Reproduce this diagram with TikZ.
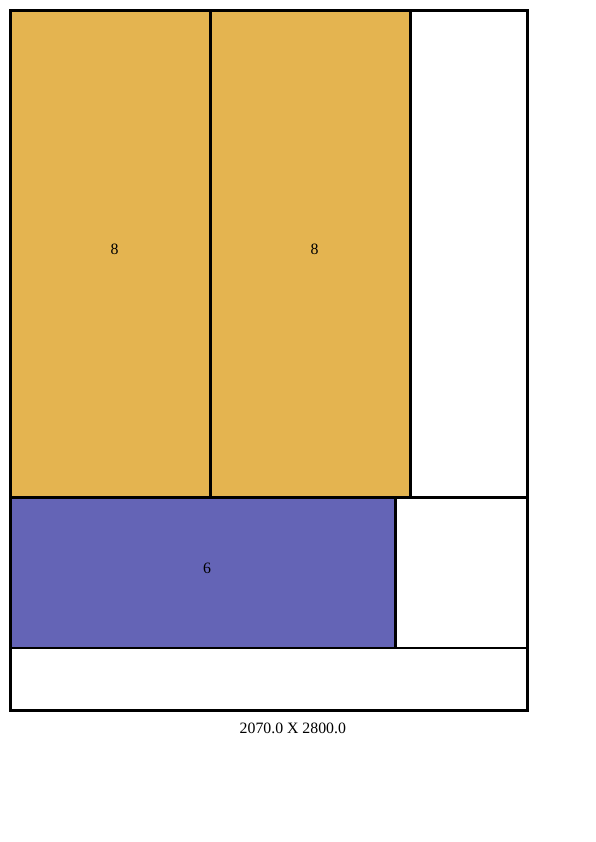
\documentclass[tikz,border=0pt]{standalone}
\usepackage{fontspec}
\setmainfont{Liberation Serif}
\definecolor{panelorange}{RGB}{228,180,80}
\definecolor{panelblue}{RGB}{100,100,182}
\begin{document}
\begin{tikzpicture}[x=1pt,y=-1pt,
  edge/.style={draw=black,line width=2.5pt},
  lbl/.style={anchor=base west,inner sep=0pt,font=\fontsize{15.8}{19}\selectfont}]
\useasboundingbox (0,0) rectangle (595,842);
\fill[white] (0,0) rectangle (595,842);
% panels
\filldraw[edge,fill=panelorange] (10.5,10.5) rectangle (210.5,497.5);
\filldraw[edge,fill=panelorange] (210.5,10.5) rectangle (410.5,497.5);
\filldraw[edge,fill=panelblue] (10.5,497.5) rectangle (395.5,648);
% shelf lines
\draw[edge] (10.5,497.5) -- (527.5,497.5);
\draw[edge] (10.5,648) -- (527.5,648);
% outer frame
\draw[edge] (10.5,10.5) rectangle (527.5,710.5);
% labels
\node[lbl] (a) at (110.5,254) {8};
\node[lbl] (b) at (310.5,254) {8};
\node[lbl] (c) at (203,573) {6};
\node[lbl] (cap) at (239.5,733.5) {2070.0 X 2800.0};
\end{tikzpicture}
\end{document}
